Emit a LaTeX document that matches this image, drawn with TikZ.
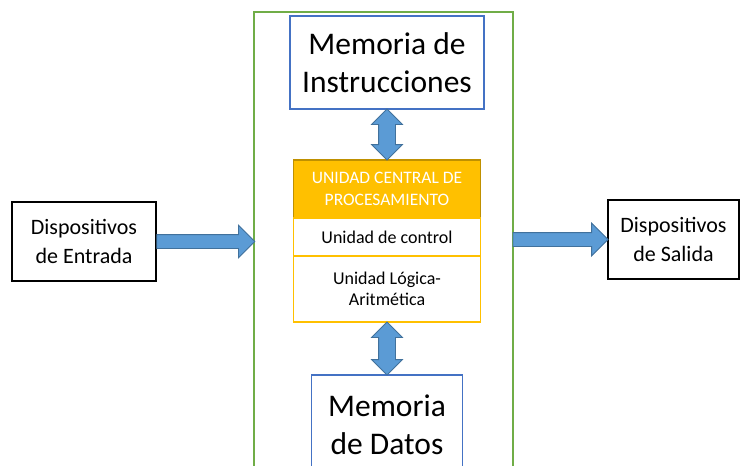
\documentclass[tikz,border=0pt]{standalone}
\usepackage{fontspec}
\setmainfont{Carlito}
\usetikzlibrary{shapes,arrows,positioning}
\definecolor{verde}{HTML}{70AD47}
\definecolor{azul}{HTML}{4472C4}
\definecolor{flecha}{HTML}{5B9BD5}
\definecolor{flechaborde}{HTML}{41719C}
\definecolor{ambar}{HTML}{FFC000}
\definecolor{ambaroscuro}{HTML}{BF9000}
\tikzstyle{mem} = [rectangle, draw=azul, line width=1.6pt, fill=white,
                   align=center, outer sep=0pt, font=\fontsize{31.5}{38}\selectfont]
\tikzstyle{disp} = [rectangle, draw=black, line width=1.6pt, align=center,
                    font=\fontsize{22}{29}\selectfont]
\tikzstyle{unidad} = [rectangle, draw=ambar, line width=1.6pt, fill=white,
                      minimum width=187pt, align=center, outer sep=0pt,
                      font=\fontsize{18}{21.5}\selectfont]
\tikzstyle{flechasimple} = [single arrow, draw=flechaborde, fill=flecha, line width=0.8pt,
                            inner sep=6.5pt, single arrow head extend=9.5pt, outer sep=0pt,
                            pos=0, anchor=tail]
\tikzstyle{flechadoble} = [double arrow, draw=flechaborde, fill=flecha, line width=0.8pt,
                           inner sep=8pt, double arrow head extend=7pt, outer sep=0pt,
                           shape border rotate=90]
\begin{document}
\begin{tikzpicture}[x=1pt, y=-1pt, node distance=51pt]
\useasboundingbox (0,0) rectangle (740,466);
\clip (0,0) rectangle (740,466);
\node [draw=verde, line width=1.6pt, minimum width=259pt, minimum height=470pt, outer sep=0pt] (cpuarea) at (383.5,247) {};
\node [mem, minimum width=194pt, minimum height=93pt] (meminst) at (387,62.5) {Memoria de\\Instrucciones};
\node [unidad, fill=ambar, draw=ambaroscuro, text=white, minimum height=58pt, below=51pt of meminst,
       font=\fontsize{17.5}{22}\selectfont] (ucp) {UNIDAD CENTRAL DE\\PROCESAMIENTO};
\node [unidad, minimum height=38pt, below=0pt of ucp] (control) {Unidad de control};
\node [unidad, minimum height=66pt, below=0pt of control] (alu) {Unidad Lógica-\\Aritmética};
\node [mem, minimum width=151pt, minimum height=100pt, below=53pt of alu] (memdatos) {Memoria\\de Datos};
\node [disp, minimum width=144pt, minimum height=79pt] (entrada) at (84,241.5) {Dispositivos\\de Entrada};
\node [disp, minimum width=131pt, minimum height=79pt] (salida) at (673.5,239.5) {Dispositivos\\de Salida};

% flechas
\path (entrada.east) -- node[flechasimple, minimum height=98pt] {} (entrada.east -| cpuarea.west);
\path (cpuarea.east |- salida.west) -- node[flechasimple, minimum height=95pt] {} (salida.west);
\path (meminst.south) -- node[flechadoble, minimum height=51pt] {} (ucp.north);
\path (alu.south) -- node[flechadoble, minimum height=53pt] {} (memdatos.north);
\end{tikzpicture}
\end{document}
